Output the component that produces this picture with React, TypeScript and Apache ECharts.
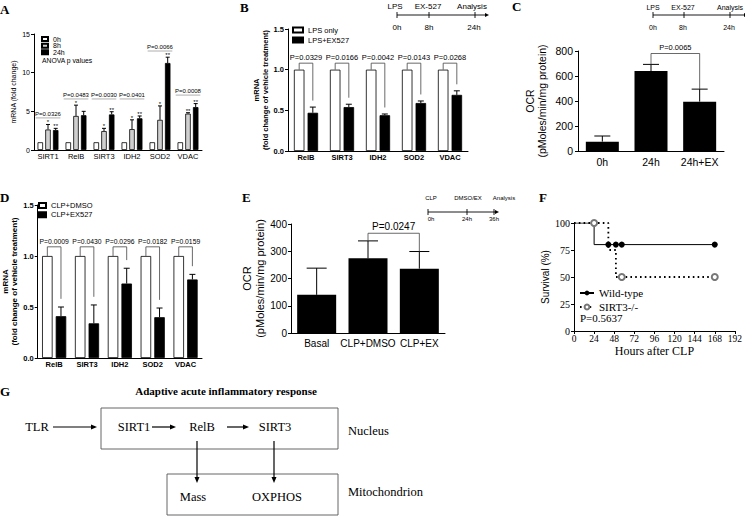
import React, { useEffect, useRef } from "react";
import * as echarts from "echarts";

const SANS = "Liberation Sans, Arial, sans-serif";
const SERIF = "Liberation Serif, Times New Roman, serif";

// ---------- Panel A ----------
const genesA = ["SIRT1", "RelB", "SIRT3", "IDH2", "SOD2", "VDAC"];
const a0h = [1, 1, 1, 1, 1, 1];
const a8h = [2.65, 4.4, 2.45, 2.7, 3.9, 4.7];
const a8hErr = [0.65, 1.4, 0.35, 1.2, 1.8, 0.12];
const a24h = [2.58, 4.5, 4.6, 4.1, 11.25, 5.55];
const a24hErr = [0.22, 0.5, 0.35, 0.3, 0.75, 0.45];
const a8hStars = ["*", "*", "*", "*", "*", "**"];
const a24hStars = ["**", "", "**", "**", "**", "**"];
const aPText = ["P=0.0326", "P=0.0483", "P=0.0030", "P=0.0401", "P=0.0066", "P=0.0008"];
const aPLevel = [4.15, 6.6, 6.6, 6.6, 12.8, 7.1];

// ---------- Panel B ----------
const genesB = ["RelB", "SIRT3", "IDH2", "SOD2", "VDAC"];
const bLpsOnly = [1, 1, 1, 1, 1];
const bLpsEx = [0.47, 0.54, 0.44, 0.59, 0.69];
const bLpsExErr = [0.07, 0.035, 0.015, 0.025, 0.05];
const bPText = ["P=0.0329", "P=0.0166", "P=0.0042", "P=0.0143", "P=0.0268"];
const bBracketLevel = 1.08;

// ---------- Panel C ----------
const catsC = ["0h", "24h", "24h+EX"];
const ocrC = [75, 640, 395];
const ocrCErr = [45, 53, 100];
const cPText = "P=0.0065";
const cBracketLevel = 780;

// ---------- Panel D ----------
const genesD = ["RelB", "SIRT3", "IDH2", "SOD2", "VDAC"];
const dDmso = [1, 1, 1, 1, 1];
const dEx = [0.41, 0.34, 0.73, 0.4, 0.77];
const dExErr = [0.09, 0.18, 0.15, 0.09, 0.05];
const dPText = ["P=0.0009", "P=0.0430", "P=0.0296", "P=0.0182", "P=0.0159"];
const dBracketLevel = 1.09;

// ---------- Panel E ----------
const catsE = ["Basal", "CLP+DMSO", "CLP+EX"];
const ocrE = [140, 274, 236];
const ocrEErr = [98, 64, 63];
const ePText = "P=0.0247";
const eBracketLevel = 366;

// ---------- Panel F ----------
const wtTimes = [0, 24, 41, 50, 57, 168];
const wtSurv = [100, 80, 80, 80, 80, 80];
const wtCensored = [false, false, true, true, true, true];
const koTimes = [0, 24, 41, 50, 57, 168];
const koSurv = [100, 100, 75, 50, 50, 50];
const koCensored = [false, true, false, false, true, true];
const fPText = "P=0.5637";

// ---------- helpers ----------
function barOffset(n: number, idx: number, bw: number, gap: number) {
  const total = n * bw + (n - 1) * bw * gap;
  return -total / 2 + bw / 2 + idx * bw * (1 + gap);
}

function errSeries(ax: number, vals: number[], errs: number[], n: number, idx: number, bw: number, gap: number, cap: number, stars?: string[], starSize = 6) {
  const off = barOffset(n, idx, bw, gap);
  return {
    type: "custom",
    xAxisIndex: ax,
    yAxisIndex: ax,
    z: 5,
    silent: true,
    data: vals.map((v, i) => [i, v, errs[i]]),
    encode: { x: 0, y: 1 },
    renderItem: (params: any, api: any) => {
      const i = api.value(0);
      const v = api.value(1);
      const e = api.value(2);
      const p0 = api.coord([i, v]);
      const p1 = api.coord([i, v + e]);
      const x = p0[0] + off;
      const st = { stroke: "#000", lineWidth: 1 };
      const children: any[] = [
        { type: "line", shape: { x1: x, y1: p0[1], x2: x, y2: p1[1] }, style: st },
        { type: "line", shape: { x1: x - cap / 2, y1: p1[1], x2: x + cap / 2, y2: p1[1] }, style: st },
      ];
      if (stars && stars[params.dataIndex]) {
        children.push({
          type: "text",
          style: {
            text: stars[params.dataIndex], x, y: p1[1] + 1, align: "center", textAlign: "center",
            verticalAlign: "bottom", textVerticalAlign: "bottom", fontSize: starSize, fontFamily: SANS, fill: "#000",
          },
        });
      }
      return { type: "group", children };
    },
  };
}

function pairBracketSeries(ax: number, lefts: number[], rightTops: number[], texts: string[], level: number, bw: number, gap: number, drop: number, fs: number) {
  return {
    type: "custom",
    xAxisIndex: ax,
    yAxisIndex: ax,
    z: 6,
    silent: true,
    data: lefts.map((v, i) => [i, v, rightTops[i]]),
    encode: { x: 0, y: 1 },
    renderItem: (params: any, api: any) => {
      const i = api.value(0);
      const c = api.coord([i, level]);
      const half = (bw * (1 + gap)) / 2;
      const yL = api.coord([i, api.value(1)])[1];
      const yR = api.coord([i, api.value(2) + drop])[1];
      return {
        type: "group",
        children: [
          {
            type: "polyline",
            shape: { points: [[c[0] - half, yL], [c[0] - half, c[1]], [c[0] + half, c[1]], [c[0] + half, yR]] },
            style: { stroke: "#444", lineWidth: 0.8, fill: null },
          },
          {
            type: "text",
            style: {
              text: texts[params.dataIndex], x: c[0], y: c[1] - 2, align: "center", textAlign: "center",
              verticalAlign: "bottom", textVerticalAlign: "bottom", fontSize: fs, fontFamily: SANS, fill: "#000",
            },
          },
        ],
      };
    },
  };
}

function catBracketSeries(ax: number, vals: number[], errs: number[], pair: number[], text: string, level: number, fs: number) {
  const tops = vals.map((v, i) => v + errs[i]);
  return {
    type: "custom",
    xAxisIndex: ax,
    yAxisIndex: ax,
    z: 6,
    silent: true,
    data: [[pair[0], tops[pair[0]], pair[1], tops[pair[1]]]],
    encode: { x: 0, y: 1 },
    renderItem: (params: any, api: any) => {
      const a = api.coord([api.value(0), api.value(1)]);
      const b = api.coord([api.value(2), api.value(3)]);
      const yl = api.coord([api.value(0), level])[1];
      return {
        type: "group",
        children: [
          {
            type: "polyline",
            shape: { points: [[a[0], a[1]], [a[0], yl], [b[0], yl], [b[0], b[1]]] },
            style: { stroke: "#444", lineWidth: 0.8, fill: null },
          },
          {
            type: "text",
            style: {
              text, x: (a[0] + b[0]) / 2, y: yl - 2, align: "center", textAlign: "center",
              verticalAlign: "bottom", textVerticalAlign: "bottom", fontSize: fs, fontFamily: SANS, fill: "#000",
            },
          },
        ],
      };
    },
  };
}

function pLineSeries(ax: number, levels: number[], texts: string[], fs: number) {
  return {
    type: "custom",
    xAxisIndex: ax,
    yAxisIndex: ax,
    z: 6,
    silent: true,
    data: levels.map((l, i) => [i, l]),
    encode: { x: 0, y: 1 },
    renderItem: (params: any, api: any) => {
      const c = api.coord([api.value(0), api.value(1)]);
      const w = api.size([1, 0])[0];
      const half = w * 0.44;
      return {
        type: "group",
        children: [
          { type: "line", shape: { x1: c[0] - half, y1: c[1], x2: c[0] + half, y2: c[1] }, style: { stroke: "#999", lineWidth: 0.8 } },
          {
            type: "text",
            style: {
              text: texts[params.dataIndex], x: c[0], y: c[1] - 1, align: "center", textAlign: "center",
              verticalAlign: "bottom", textVerticalAlign: "bottom", fontSize: fs, fontFamily: SANS, fill: "#000",
            },
          },
        ],
      };
    },
  };
}

function catAxis(grid: number, data: string[], fs: number, bold: boolean, margin: number) {
  return {
    type: "category",
    gridIndex: grid,
    data,
    axisLine: { lineStyle: { color: "#000", width: 1 } },
    axisTick: { show: false },
    axisLabel: { color: "#000", fontSize: fs, fontWeight: bold ? "bold" : "normal", margin, interval: 0, fontFamily: SANS },
  };
}

function valAxis(grid: number, min: number, max: number, interval: number, fs: number, bold: boolean, margin: number, name: string, nameGap: number, nameFs: number, nameBold: boolean, fmt?: (v: number) => string, font = SANS) {
  return {
    type: "value",
    gridIndex: grid,
    min,
    max,
    interval,
    splitLine: { show: false },
    axisLine: { show: true, lineStyle: { color: "#000", width: 1 } },
    axisTick: { show: true, length: 3, lineStyle: { color: "#000" } },
    axisLabel: { color: "#000", fontSize: fs, fontWeight: bold ? "bold" : "normal", margin, fontFamily: font, formatter: fmt },
    name,
    nameLocation: "middle",
    nameGap,
    nameTextStyle: { color: "#000", fontSize: nameFs, fontWeight: nameBold ? "bold" : "normal", fontFamily: SANS, lineHeight: nameFs * 1.15 },
  };
}

function txt(x: number, y: number, text: string, fs: number, opts: any = {}) {
  return {
    type: "text",
    x,
    y,
    silent: true,
    style: {
      text,
      fill: "#000",
      fontSize: fs,
      fontFamily: opts.family || SANS,
      fontWeight: opts.weight || "normal",
      align: opts.align || "center",
      textAlign: opts.align || "center",
      verticalAlign: "middle",
      textVerticalAlign: "middle",
    },
  };
}

function hLine(x1: number, y1: number, x2: number, y2: number, w = 1, color = "#000") {
  return { type: "line", silent: true, shape: { x1, y1, x2, y2 }, style: { stroke: color, lineWidth: w } };
}

function arrowH(x1: number, x2: number, y: number, len = 6, hw = 2.5) {
  return [
    hLine(x1, y, x2 - len + 1, y, 1.2),
    { type: "polygon", silent: true, shape: { points: [[x2, y], [x2 - len, y - hw], [x2 - len, y + hw]] }, style: { fill: "#000" } },
  ];
}
function arrowV(x: number, y1: number, y2: number, len = 6, hw = 2.5) {
  return [
    hLine(x, y1, x, y2 - len + 1, 1.2),
    { type: "polygon", silent: true, shape: { points: [[x, y2], [x - hw, y2 - len], [x + hw, y2 - len]] }, style: { fill: "#000" } },
  ];
}

function timeline(x0: number, x1: number, y: number, ticks: number[], topLabels: string[], topX: number[], topY: number, botLabels: string[], botX: number[], botY: number, fs: number) {
  const els: any[] = [hLine(x0, y, x1 - 3, y, 0.9)];
  els.push({ type: "polygon", silent: true, shape: { points: [[x1, y], [x1 - 4, y - 2], [x1 - 4, y + 2]] }, style: { fill: "#000" } });
  ticks.forEach((t) => els.push(hLine(t, y - 3, t, y + 3, 0.9)));
  topLabels.forEach((l, i) => els.push(txt(topX[i], topY, l, fs)));
  botLabels.forEach((l, i) => els.push(txt(botX[i], botY, l, fs)));
  return els;
}

export default function App() {
  const ref = useRef<HTMLDivElement>(null);
  useEffect(() => {
    if (!ref.current) return;
    const chart = echarts.init(ref.current, null, { renderer: "svg" });

    const grids = [
      { left: 34, top: 34, width: 168, height: 116 },
      { left: 288, top: 29, width: 180, height: 122 },
      { left: 578, top: 51, width: 146, height: 100 },
      { left: 36, top: 205, width: 166, height: 153 },
      { left: 291, top: 224, width: 154, height: 109 },
      { left: 574, top: 223, width: 163, height: 108 },
    ];

    const fmt1 = (v: number) => v.toFixed(1);

    const xAxis: any[] = [
      catAxis(0, genesA, 7.5, false, 2),
      catAxis(1, genesB, 7.5, true, 2),
      catAxis(2, catsC, 10.5, false, 5),
      catAxis(3, genesD, 7.5, true, 2),
      catAxis(4, catsE, 10, false, 5),
      {
        type: "value",
        gridIndex: 5,
        min: 0,
        max: 192,
        interval: 24,
        splitLine: { show: false },
        axisLine: { lineStyle: { color: "#000", width: 1 } },
        axisTick: { show: true, length: 3, lineStyle: { color: "#000" } },
        axisLabel: { color: "#000", fontSize: 9.5, fontFamily: SERIF, margin: 3 },
        name: "Hours after CLP",
        nameLocation: "middle",
        nameGap: 9,
        nameTextStyle: { color: "#000", fontSize: 12, fontFamily: SERIF, verticalAlign: "top" },
      },
    ];

    const yAxis: any[] = [
      valAxis(0, 0, 15, 5, 7, false, 4, "mRNA (fold change)", 16, 7, false),
      valAxis(1, 0, 1.5, 0.5, 7.5, true, 4, "mRNA\n(fold change of vehicle treatment)", 13, 7.5, true, fmt1),
      valAxis(2, 0, 800, 200, 10.5, false, 5, "OCR\n(pMoles/min/mg protein)", 30, 10.5, false),
      valAxis(3, 0, 1.5, 0.5, 7.5, true, 4, "mRNA\n(fold change of vehicle treatment)", 15, 8, true, fmt1),
      valAxis(4, 0, 400, 100, 10, false, 4, "OCR\n(pMoles/min/mg protein)", 19, 11, false),
      valAxis(5, 0, 100, 25, 10, false, 4, "Survival (%)", 19, 10, false, undefined, SERIF),
    ];

    const bwA = 5.5, gapA = 0.4;
    const bwB = 10.5, gapB = 0.3;
    const blackBorder = { borderColor: "#000", borderWidth: 0.8 };

    const series: any[] = [
      // Panel A
      { type: "bar", name: "0h", xAxisIndex: 0, yAxisIndex: 0, data: a0h, barWidth: bwA, barGap: "40%", itemStyle: { color: "#fff", ...blackBorder } },
      { type: "bar", name: "8h", xAxisIndex: 0, yAxisIndex: 0, data: a8h, barWidth: bwA, barGap: "40%", itemStyle: { color: "#cfcfcf", ...blackBorder } },
      { type: "bar", name: "24h", xAxisIndex: 0, yAxisIndex: 0, data: a24h, barWidth: bwA, barGap: "40%", itemStyle: { color: "#000", ...blackBorder } },
      errSeries(0, a8h, a8hErr, 3, 1, bwA, gapA, 4, a8hStars, 6),
      errSeries(0, a24h, a24hErr, 3, 2, bwA, gapA, 4, a24hStars, 6),
      pLineSeries(0, aPLevel, aPText, 6),

      // Panel B
      { type: "bar", name: "LPS only", xAxisIndex: 1, yAxisIndex: 1, data: bLpsOnly, barWidth: bwB, barGap: "30%", itemStyle: { color: "#fff", ...blackBorder } },
      { type: "bar", name: "LPS+EX527", xAxisIndex: 1, yAxisIndex: 1, data: bLpsEx, barWidth: bwB, barGap: "30%", itemStyle: { color: "#000", ...blackBorder } },
      errSeries(1, bLpsEx, bLpsExErr, 2, 1, bwB, gapB, 6),
      pairBracketSeries(1, bLpsOnly, bLpsEx.map((v, i) => v + bLpsExErr[i]), bPText, bBracketLevel, bwB, gapB, 0.08, 7.5),

      // Panel C
      { type: "bar", name: "OCR LPS", xAxisIndex: 2, yAxisIndex: 2, data: ocrC, barWidth: 33, itemStyle: { color: "#000" } },
      errSeries(2, ocrC, ocrCErr, 1, 0, 33, 0, 16),
      catBracketSeries(2, ocrC, ocrCErr, [1, 2], cPText, cBracketLevel, 7.5),

      // Panel D
      { type: "bar", name: "CLP+DMSO", xAxisIndex: 3, yAxisIndex: 3, data: dDmso, barWidth: bwB, barGap: "30%", itemStyle: { color: "#fff", ...blackBorder } },
      { type: "bar", name: "CLP+EX527", xAxisIndex: 3, yAxisIndex: 3, data: dEx, barWidth: bwB, barGap: "30%", itemStyle: { color: "#000", ...blackBorder } },
      errSeries(3, dEx, dExErr, 2, 1, bwB, gapB, 6),
      pairBracketSeries(3, dDmso, dEx.map((v, i) => v + dExErr[i]), dPText, dBracketLevel, bwB, gapB, 0.08, 6.8),

      // Panel E
      { type: "bar", name: "OCR CLP", xAxisIndex: 4, yAxisIndex: 4, data: ocrE, barWidth: 39, itemStyle: { color: "#000" } },
      errSeries(4, ocrE, ocrEErr, 1, 0, 39, 0, 20),
      catBracketSeries(4, ocrE, ocrEErr, [1, 2], ePText, eBracketLevel, 10),

      // Panel F
      {
        type: "line",
        name: "Wild-type",
        xAxisIndex: 5,
        yAxisIndex: 5,
        step: "end",
        symbol: "circle",
        symbolSize: 6,
        showSymbol: true,
        data: wtTimes.map((t, i) => ({ value: [t, wtSurv[i]], symbol: wtCensored[i] ? "circle" : "none" })),
        lineStyle: { color: "#000", width: 1 },
        itemStyle: { color: "#000" },
        z: 3,
      },
      {
        type: "line",
        name: "SIRT3-/-",
        xAxisIndex: 5,
        yAxisIndex: 5,
        step: "end",
        symbol: "emptyCircle",
        symbolSize: 6,
        showSymbol: true,
        data: koTimes.map((t, i) => ({ value: [t, koSurv[i]], symbol: koCensored[i] ? "emptyCircle" : "none" })),
        lineStyle: { color: "#000", width: 1.8, type: [1.6, 3.2] },
        itemStyle: { color: "#777", borderWidth: 1.2 },
        z: 4,
      },
    ];

    const legendBase = { orient: "vertical", padding: 0, selectedMode: false, icon: "rect" };
    const aLegendText = { fontSize: 7, lineHeight: 8, color: "#000", fontFamily: SANS };
    const legend: any[] = [
      { ...legendBase, data: ["0h"], left: 41, top: 35, itemWidth: 6, itemHeight: 4, textStyle: aLegendText },
      { ...legendBase, data: ["8h"], left: 41, top: 41.7, itemWidth: 6, itemHeight: 4, textStyle: aLegendText },
      { ...legendBase, data: ["24h"], left: 41, top: 48.3, itemWidth: 6, itemHeight: 4, textStyle: aLegendText },
      { ...legendBase, data: ["LPS only", "LPS+EX527"], left: 292, top: 26, itemWidth: 10, itemHeight: 5, itemGap: 2, textStyle: { fontSize: 7.5, lineHeight: 8, color: "#000", fontFamily: SANS } },
      { ...legendBase, data: ["CLP+DMSO", "CLP+EX527"], left: 38, top: 201.5, itemWidth: 7, itemHeight: 5, itemGap: 1.3, textStyle: { fontSize: 7.5, lineHeight: 7, color: "#000", fontFamily: SANS } },
      { orient: "vertical", padding: 0, selectedMode: false, data: ["Wild-type", "SIRT3-/-"], left: 579, top: 287, itemWidth: 14, itemHeight: 6, itemGap: 2, textStyle: { fontSize: 11, lineHeight: 12, color: "#000", fontFamily: SERIF } },
    ];

    const L = { family: SERIF, weight: "bold", align: "left" };
    const graphic: any[] = [
      // panel letters
      txt(0, 9, "A", 13, L),
      txt(240, 7, "B", 13, L),
      txt(512, 6, "C", 13, L),
      txt(0, 197, "D", 13, L),
      txt(242, 197, "E", 13, L),
      txt(539, 197, "F", 13, L),
      txt(0, 391, "G", 13, L),
      // extra legend / annotation text
      txt(42, 60, "ANOVA p values", 6.8, { align: "left" }),
      txt(580, 318, fPText, 11, { family: SERIF, align: "left" }),
      // timelines
      ...timeline(397, 489, 15, [397, 429, 475], ["LPS", "EX-527", "Analysis"], [395, 428, 472], 6, ["0h", "8h", "24h"], [397, 429, 474], 27, 8),
      ...timeline(653, 748, 15, [653, 684, 730], ["LPS", "EX-527", "Analysis"], [653, 683, 730], 7, ["0h", "8h", "24h"], [653, 683, 729], 27, 7),
      ...timeline(428, 499, 212, [428, 467, 494], ["CLP", "DMSO/EX", "Analysis"], [431, 468, 504], 198, ["0h", "24h", "36h"], [431, 467, 494], 219, 6),
      // Panel G
      txt(226, 391, "Adaptive acute inflammatory response", 11, { family: SERIF, weight: "bold" }),
      { type: "rect", silent: true, shape: { x: 101, y: 408, width: 237, height: 41 }, style: { fill: "none", stroke: "#555", lineWidth: 0.9 } },
      { type: "rect", silent: true, shape: { x: 167, y: 474, width: 171, height: 41 }, style: { fill: "none", stroke: "#555", lineWidth: 0.9 } },
      txt(37, 427, "TLR", 12.5, { family: SERIF }),
      txt(134, 427, "SIRT1", 12.5, { family: SERIF }),
      txt(202, 427, "RelB", 12.5, { family: SERIF }),
      txt(275, 427, "SIRT3", 12.5, { family: SERIF }),
      txt(348, 431, "Nucleus", 12.5, { family: SERIF, align: "left" }),
      txt(193, 497, "Mass", 12.5, { family: SERIF }),
      txt(277, 497, "OXPHOS", 12.5, { family: SERIF }),
      txt(348, 492, "Mitochondrion", 12.5, { family: SERIF, align: "left" }),
      ...arrowH(53, 97, 427),
      ...arrowH(152, 176, 427),
      ...arrowH(227, 249, 427),
      ...arrowV(197, 441, 483),
      ...arrowV(274, 441, 483),
    ];

    chart.setOption({
      animation: false,
      backgroundColor: "#fff",
      textStyle: { fontFamily: SANS },
      grid: grids,
      xAxis,
      yAxis,
      series,
      legend,
      graphic,
    });
    return () => chart.dispose();
  }, []);
  return <div ref={ref} style={{ position: "fixed", left: 0, top: 0, width: 745, height: 516 }} />;
}
